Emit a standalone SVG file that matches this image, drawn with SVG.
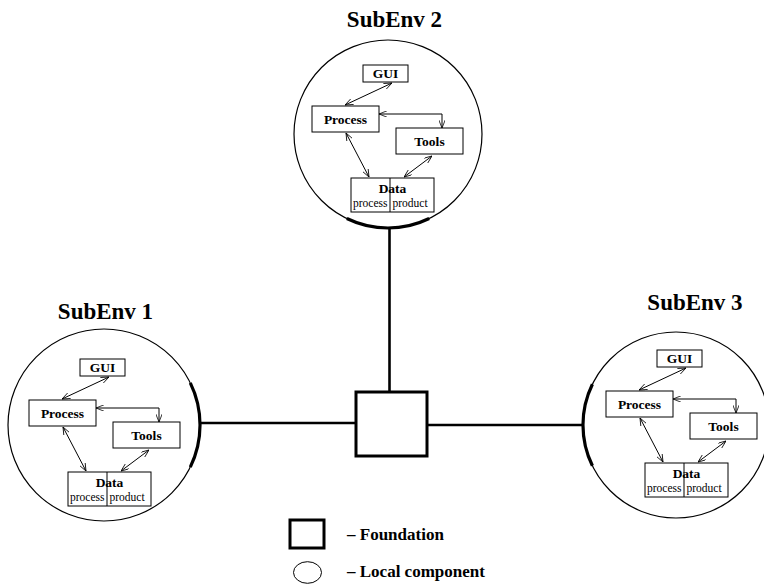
<svg xmlns="http://www.w3.org/2000/svg" width="764" height="584" viewBox="0 0 764 584">
<style>
.box{fill:#fff;stroke:#000;stroke-width:1}
.lbl{font-family:"Liberation Serif","Times New Roman",serif;font-weight:bold;font-size:13.5px;text-anchor:middle}
.sub{font-family:"Liberation Serif","Times New Roman",serif;font-size:11.5px}
.title{font-family:"Liberation Serif","Times New Roman",serif;font-weight:bold;font-size:23px;text-anchor:middle}
.leg{font-family:"Liberation Serif","Times New Roman",serif;font-weight:bold;font-size:17px}
.env{fill:none;stroke:#000;stroke-width:1.2}
.thick{fill:none;stroke:#000;stroke-width:3.2}
.main{fill:none;stroke:#000;stroke-width:2.6}
.arr{fill:none;stroke:#000;stroke-width:1;marker-start:url(#ah);marker-end:url(#ah)}
</style>
<defs>
<marker id="ah" viewBox="0 0 10 8" refX="10" refY="4" markerWidth="8" markerHeight="6.4" orient="auto-start-reverse" markerUnits="userSpaceOnUse">
<path d="M0,0 L10,4 L0,8" fill="none" stroke="#000" stroke-width="1"/>
</marker>
<g id="inner">
<g id="gui"><rect class="box" x="363" y="65" width="45" height="17"/><text class="lbl" x="385.5" y="78">GUI</text></g>
<g id="process"><rect class="box" x="312" y="106" width="67" height="26"/><text class="lbl" x="345.5" y="124">Process</text></g>
<g id="tools"><rect class="box" x="396" y="128" width="67" height="26"/><text class="lbl" x="429.5" y="146">Tools</text></g>
<g id="data"><rect class="box" x="351" y="178" width="83" height="34"/><line x1="390" y1="178" x2="390" y2="212" stroke="#000" stroke-width="1"/><text class="lbl" x="392.5" y="193">Data</text><text class="sub" x="353" y="207">process</text><text class="sub" x="392.5" y="207">product</text></g>
<g id="inner-connectors">
<path class="arr" d="M345,105 L392,83"/>
<path class="arr" d="M379,114 L442,114 L442,128"/>
<path class="arr" d="M346,133 L369,177"/>
<path class="arr" d="M432,156 L404,177"/>
</g>
</g>
</defs>

<g id="connectors">
<path class="main" d="M389.5,228 L389.5,392"/>
<path class="main" d="M200,423 L356,423"/>
<path class="main" d="M427,425 L583,425"/>
</g>

<g id="foundation"><rect x="356" y="392" width="71" height="64" fill="#fff" stroke="#000" stroke-width="3"/></g>

<g id="subenv2">
<text class="title" x="394.5" y="27">SubEnv 2</text>
<circle class="env" cx="388" cy="134" r="94"/>
<path class="thick" d="M346.8,218.5 A94,94 0 0 0 429.2,218.5"/>
<use href="#inner"/>
</g>

<g id="subenv1">
<text class="title" x="105.5" y="319">SubEnv 1</text>
<circle class="env" cx="104" cy="425" r="96"/>
<path class="thick" d="M190.3,382.9 A96,96 0 0 1 190.3,467.1"/>
<use href="#inner" transform="translate(-283,294)"/>
</g>

<g id="subenv3">
<text class="title" x="695" y="310">SubEnv 3</text>
<circle class="env" cx="676" cy="425" r="93"/>
<path class="thick" d="M592.4,384.2 A93,93 0 0 0 592.4,465.8"/>
<use href="#inner" transform="translate(294,285)"/>
</g>

<g id="legend">
<g id="legend-foundation"><rect x="290" y="520" width="34" height="28" fill="#fff" stroke="#000" stroke-width="3"/><text class="leg" x="347" y="540">– Foundation</text></g>
<g id="legend-local"><ellipse cx="307.5" cy="572.5" rx="14" ry="10.8" fill="#fff" stroke="#000" stroke-width="1"/><text class="leg" x="347" y="577">– Local component</text></g>
</g>
</svg>
